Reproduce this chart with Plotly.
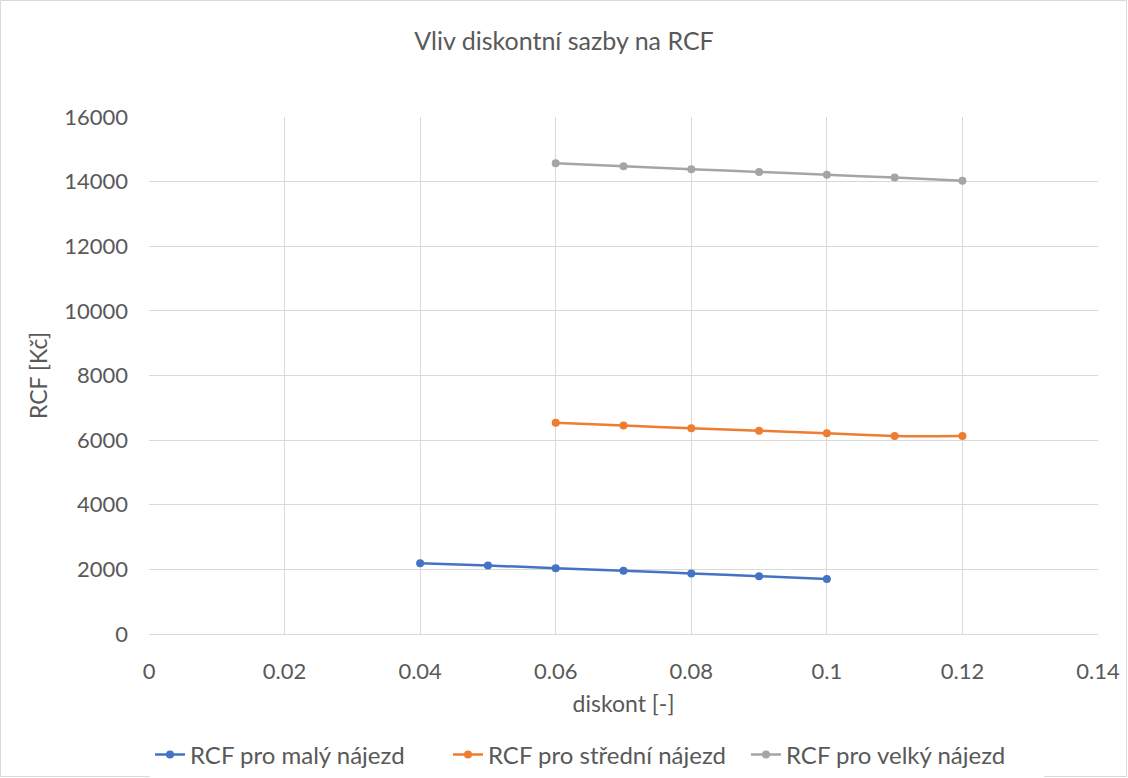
import plotly.graph_objects as go

diskont_maly = [0.04, 0.05, 0.06, 0.07, 0.08, 0.09, 0.10]
rcf_maly = [2190, 2120, 2035, 1955, 1875, 1790, 1700]

diskont_stredni = [0.06, 0.07, 0.08, 0.09, 0.10, 0.11, 0.12]
rcf_stredni = [6540, 6450, 6370, 6290, 6210, 6125, 6130]

diskont_velky = [0.06, 0.07, 0.08, 0.09, 0.10, 0.11, 0.12]
rcf_velky = [14565, 14475, 14385, 14300, 14215, 14125, 14030]

series_names = ["RCF pro malý nájezd", "RCF pro střední nájezd", "RCF pro velký nájezd"]
colors = ["#4472C4", "#ED7D31", "#A5A5A5"]

x_ticks = [0, 0.02, 0.04, 0.06, 0.08, 0.1, 0.12, 0.14]
x_tick_labels = ["0", "0.02", "0.04", "0.06", "0.08", "0.1", "0.12", "0.14"]
y_ticks = [0, 2000, 4000, 6000, 8000, 10000, 12000, 14000, 16000]
y_tick_labels = ["0", "2000", "4000", "6000", "8000", "10000", "12000", "14000", "16000"]

FONT = "Lato"
TXT = "#595959"
W, H = 1128, 778
L, R, T, B = 149, 30, 117, 144

fig = go.Figure()
for xs, ys, name, c in zip([diskont_maly, diskont_stredni, diskont_velky],
                           [rcf_maly, rcf_stredni, rcf_velky], series_names, colors):
    fig.add_trace(go.Scatter(
        x=xs, y=ys, name=name, mode="lines+markers",
        line=dict(color=c, width=2.5, shape="spline", smoothing=0.4),
        marker=dict(color=c, size=8),
    ))

pw = W - L - R
ph = H - T - B
fig.add_shape(type="rect", xref="paper", yref="paper",
              x0=-(L - 0.5) / pw, x1=1 + (R - 1.5) / pw,
              y0=-(B - 1.5) / ph, y1=1 + (T - 0.5) / ph,
              line=dict(color="#D9D9D9", width=1), layer="below")

fig.update_layout(
    width=W, height=H,
    margin=dict(l=L, r=R, t=T, b=B, autoexpand=False),
    paper_bgcolor="white", plot_bgcolor="white",
    font=dict(family=FONT, size=22, color=TXT),
    title=dict(text="Vliv diskontní sazby na RCF", x=0.5, xanchor="center",
               y=1 - 41 / H, yanchor="middle",
               font=dict(family=FONT, size=25, color=TXT)),
    showlegend=True,
    legend=dict(orientation="h", x=(150 - L) / pw, xanchor="left", y=-(755 - 634) / ph, yanchor="middle",
                font=dict(family=FONT, size=24, color=TXT),
                itemwidth=30, tracegroupgap=0,
                entrywidth=253, entrywidthmode="pixels"),
    xaxis=dict(range=[0, 0.14], tickvals=x_ticks, ticktext=x_tick_labels,
               showgrid=True, gridcolor="#D9D9D9", gridwidth=1,
               showline=True, linecolor="#D9D9D9", linewidth=1, mirror=False,
               zeroline=False, ticks="", ticklen=0, ticklabelstandoff=18,
               title=dict(text="diskont [-]", font=dict(family=FONT, size=23, color=TXT),
                          standoff=12),
               tickfont=dict(family=FONT, size=22, color=TXT)),
    yaxis=dict(range=[0, 16000], tickvals=y_ticks, ticktext=y_tick_labels,
               showgrid=True, gridcolor="#D9D9D9", gridwidth=1,
               showline=False, zeroline=False, ticks="", ticklabelstandoff=20,
               title=dict(text="RCF [Kč]", font=dict(family=FONT, size=23, color=TXT),
                          standoff=10),
               tickfont=dict(family=FONT, size=22, color=TXT)),
)

fig.write_html("out.html")
